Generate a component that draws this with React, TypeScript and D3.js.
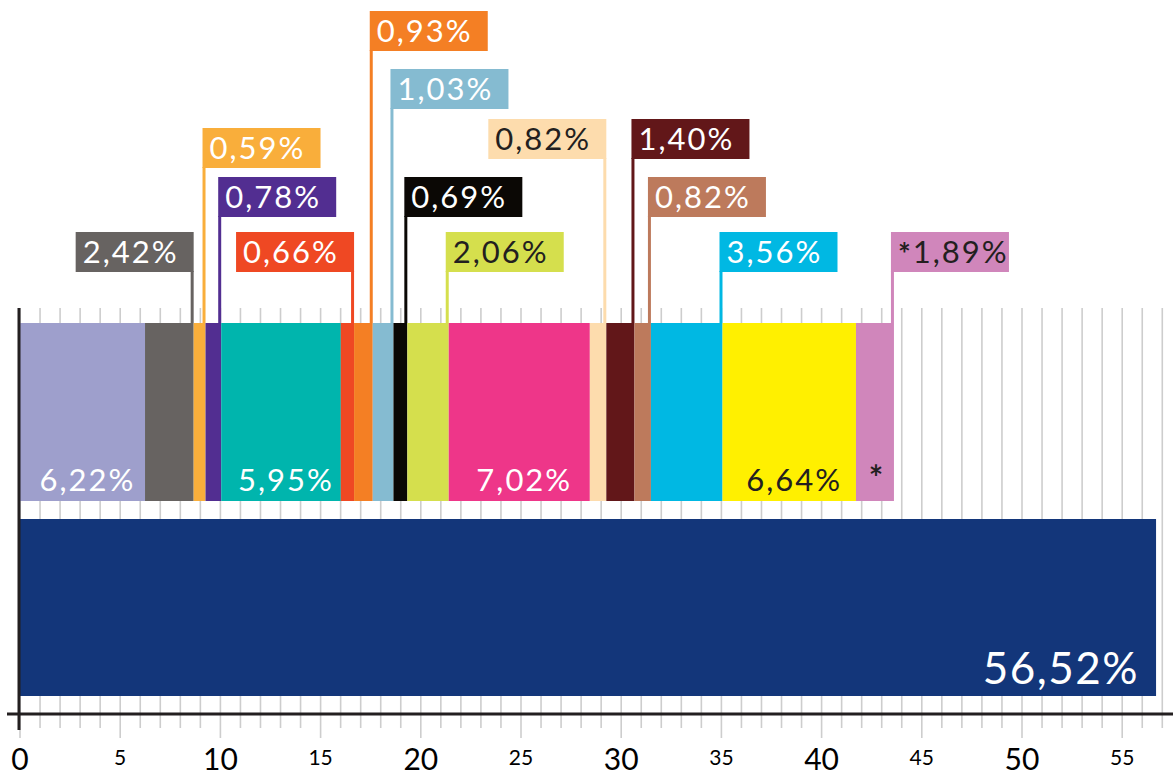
import React from "react";
import * as d3 from "d3";

// values of the stacked bar, left to right
const segmentValues = [6.22, 2.42, 0.59, 0.78, 5.95, 0.66, 0.93, 1.03, 0.69, 2.06, 7.02, 0.82, 1.4, 0.82, 3.56, 6.64, 1.89];
const segmentColors = [
  "#9e9fcc", "#676361", "#f9ae3b", "#522e91", "#00b5ad", "#ef4823", "#f47f24", "#85bbd1",
  "#0b0805", "#d5df4d", "#ee3689", "#fddcad", "#621719", "#bd7a5c", "#00b8e3", "#fff000", "#d086bb",
];
const segmentTextDark = [false, false, false, false, false, false, false, false, false, true, false, true, false, false, false, true, true];
const starred = [false, false, false, false, false, false, false, false, false, false, false, false, false, false, false, false, true];
const bigValue = 56.52;
const bigColor = "#13367a";
const tickValues = d3.range(0, 58);
const tickLabels = [0, 5, 10, 15, 20, 25, 30, 35, 40, 45, 50, 55];

// label placement: "in" = inside bar, otherwise [row, align]
const placement: (string | [number, string])[] = [
  "in", [5, "r"], [3, "l"], [4, "l"], "in", [5, "r"], [0, "l"], [1, "l"], [4, "l"], [5, "l"],
  "in", [2, "r"], [2, "l"], [4, "l"], [5, "l"], "in", [5, "l"],
];
const rowTops = [11, 69, 119, 128, 177, 232];

const W = 1173, H = 776;
const FONT = "Lato, 'Noto Sans', sans-serif";
const DARK = "#231f20";

const fmt = (v: number) => v.toFixed(2).replace(".", ",") + "%";

export default function App() {
  // bars are drawn a touch wider than the grid in the original
  const x = d3.scaleLinear().domain([0, 57]).range([20, 20 + 57 * 20.1]);
  const gx = d3.scaleLinear().domain([0, 57]).range([20, 20 + 57 * 20.04]);
  const barTop = 323, barH = 178;
  const bigTop = 519, bigH = 177;
  const axisY = 714;
  const boxW = 118, boxH = 40;

  let acc = 0;
  const segs = segmentValues.map((v, i) => {
    const s = { v, i, x0: x(acc), x1: x(acc + v) };
    acc += v;
    return s;
  });

  return (
    <svg width={W} height={H} style={{ position: "absolute", left: 0, top: 0, background: "#fff" }} fontFamily={FONT}>
      {/* grid */}
      {tickValues.map((t) => (
        <line key={t} x1={gx(t)} x2={gx(t)} y1={308} y2={t % 5 === 0 ? 738 : 728} stroke="#cdcdcd" strokeWidth={1.6} />
      ))}
      {/* stacked bar */}
      {segs.map((s) => (
        <rect key={s.i} x={s.x0} y={barTop} width={s.x1 - s.x0} height={barH} fill={segmentColors[s.i]} />
      ))}
      {/* big bar */}
      <rect x={x(0)} y={bigTop} width={x(bigValue) - x(0)} height={bigH} fill={bigColor} />
      <text x={x(bigValue) - 17} y={684} textAnchor="end" fill="#fff" fontSize={44} letterSpacing={1.5}>{fmt(bigValue)}</text>

      {/* labels */}
      {segs.map((s) => {
        const p = placement[s.i];
        const col = segmentTextDark[s.i] ? DARK : "#fff";
        if (p === "in") {
          const cx = (s.x0 + s.x1) / 2 + 5;
          return (
            <text key={s.i} x={cx} y={491} textAnchor="middle" fill={col} fontSize={31} letterSpacing={2}>{fmt(s.v)}</text>
          );
        }
        const [row, align] = p as [number, string];
        const top = rowTops[row];
        const lx = s.x1 - 1.5;
        const bx = align === "r" ? s.x1 - boxW : s.x1 - 3;
        return (
          <g key={s.i}>
            <line x1={lx} x2={lx} y1={top + boxH - 1} y2={barTop} stroke={segmentColors[s.i]} strokeWidth={3} />
            <rect x={bx} y={top} width={boxW} height={boxH} fill={segmentColors[s.i]} />
            <text x={bx + 7} y={top + 31} fill={col} fontSize={31} letterSpacing={2}>
              {starred[s.i] ? <tspan fontSize={30} fontWeight="bold" dy={2}>*</tspan> : null}
              {starred[s.i] ? <tspan dy={-2}>{fmt(s.v)}</tspan> : fmt(s.v)}
            </text>
            {starred[s.i] ? (
              <text x={(s.x0 + s.x1) / 2 + 1} y={490} textAnchor="middle" fill={DARK} fontSize={34} fontWeight="bold">*</text>
            ) : null}
          </g>
        );
      })}

      {/* axes */}
      <line x1={7} x2={W} y1={axisY} y2={axisY} stroke={DARK} strokeWidth={3} />
      <line x1={gx(0) - 1} x2={gx(0) - 1} y1={308} y2={730} stroke={DARK} strokeWidth={3} />
      {tickLabels.map((t) => (
        <text key={t} x={gx(t)} y={t % 10 === 0 ? 770 : 765} textAnchor="middle" fill="#000" fontSize={t % 10 === 0 ? 30 : 21}>
          {t}
        </text>
      ))}
    </svg>
  );
}
